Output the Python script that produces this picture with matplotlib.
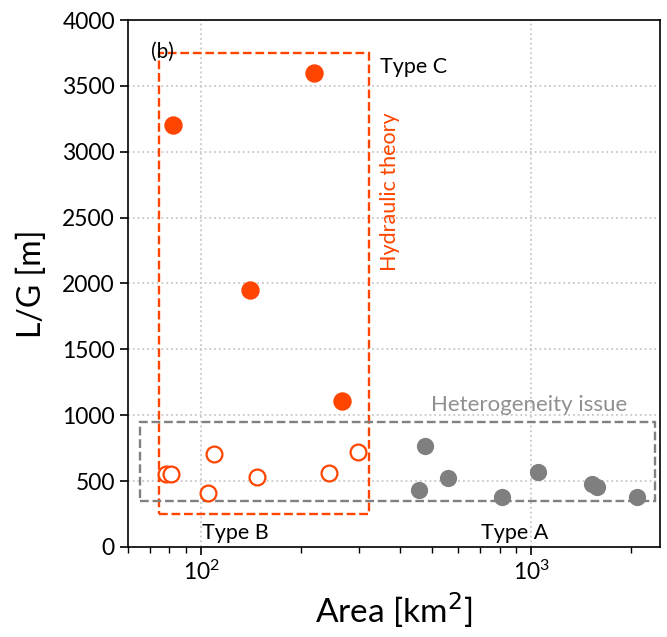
import matplotlib
matplotlib.use("Agg")
import matplotlib.pyplot as plt
from matplotlib.patches import Rectangle

plt.rcParams['font.family'] = ['Lato', 'DejaVu Sans']
plt.rcParams['mathtext.fontset'] = 'dejavusans'

# Type C: hydraulic theory (filled orange)
area_c = [82, 220, 140, 266]
lg_c = [3200, 3600, 1950, 1110]

# Type B: open orange circles
area_b = [78, 81, 109, 105, 147, 243, 298]
lg_b = [552, 552, 706, 407, 534, 562, 719]

# Type A: heterogeneity (filled gray)
area_a = [476, 455, 560, 813, 1050, 1524, 1578, 2084]
lg_a = [769, 433, 526, 382, 567, 476, 458, 382]

# boxes: (x0, x1, y0, y1)
box_hydraulic = (74.6, 323, 250, 3750)
box_hetero = (65, 2360, 350, 950)

orange = '#FF4500'
gray = '#7f7f7f'

fig = plt.figure(figsize=(6.67, 6.37), dpi=100)
ax = fig.add_axes([0.192, 0.1413, 0.7975, 0.8273])

ax.scatter(area_c, lg_c, s=150, color=orange, zorder=3)
ax.scatter(area_b, lg_b, s=130, facecolors='white', edgecolors=orange,
           linewidths=1.6, zorder=3)
ax.scatter(area_a, lg_a, s=130, color=gray, zorder=3)

x0, x1, y0, y1 = box_hydraulic
ax.add_patch(Rectangle((x0, y0), x1 - x0, y1 - y0, fill=False,
                       edgecolor=orange, linestyle='--', linewidth=1.7, zorder=2))
x0, x1, y0, y1 = box_hetero
ax.add_patch(Rectangle((x0, y0), x1 - x0, y1 - y0, fill=False,
                       edgecolor='#808080', linestyle='--', linewidth=1.7, zorder=2))

ax.set_xscale('log')
ax.set_xlim(60, 2450)
ax.set_ylim(0, 4000)
ax.set_yticks(range(0, 4001, 500))
ax.grid(True, which='major', linestyle=':', color='#c8c8c8', linewidth=1.3)
ax.set_axisbelow(True)

ax.tick_params(axis='both', which='major', labelsize=16.5, length=6, width=1.2)
ax.tick_params(axis='x', which='minor', length=4, width=1)
for sp in ax.spines.values():
    sp.set_linewidth(1.2)

ax.set_xlabel('Area [km$^2$]', fontsize=24, labelpad=4)
ax.set_ylabel('L/G [m]', fontsize=23, labelpad=11)

ax.text(70.5, 3760, '(b)', fontsize=15, ha='left', va='center')
ax.text(348, 3640, 'Type C', fontsize=15.5, ha='left', va='center')
ax.text(372, 2700, 'Hydraulic theory', fontsize=15.5, color=orange,
        rotation=90, ha='center', va='center')
ax.text(985, 1080, 'Heterogeneity issue', fontsize=16, color='#909090',
        ha='center', va='center')
ax.text(127, 106, 'Type B', fontsize=15.5, ha='center', va='center')
ax.text(888, 106, 'Type A', fontsize=15.5, ha='center', va='center')

fig.savefig('out.png', dpi=100)
